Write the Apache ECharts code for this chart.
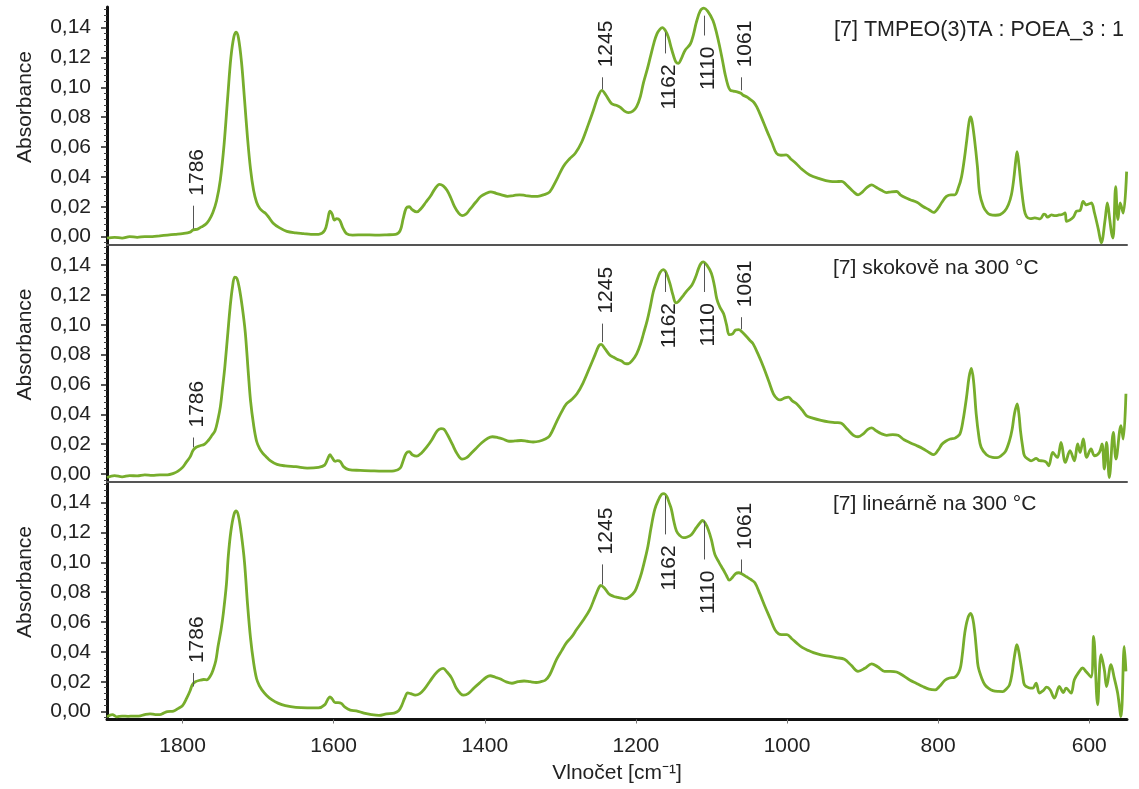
<!DOCTYPE html>
<html>
<head>
<meta charset="utf-8">
<script src="https://cdn.jsdelivr.net/npm/echarts@6/dist/echarts.min.js"></script>
<style>
  html, body { margin: 0; padding: 0; background: #fff; }
  #chart { width: 1139px; height: 789px; }
</style>
</head>
<body>
<div id="chart"></div>
<script>
// IR spectra: [wavenumber (cm-1), absorbance]
const spectrumTop = [
  [1900,-0.001],[1890,-0.0005],[1880,-0.001],[1870,0.0],[1860,-0.0005],[1850,0.0],[1840,0.0],[1830,0.0005],[1820,0.001],[1810,0.0015],
  [1800,0.002],[1790,0.003],[1786,0.0045],[1780,0.005],[1775,0.0065],[1770,0.008],[1765,0.011],[1760,0.016],[1755,0.024],[1750,0.038],
  [1745,0.062],[1740,0.095],[1736,0.120],[1732,0.134],[1729,0.137],[1726,0.133],[1722,0.117],[1718,0.092],[1714,0.066],[1710,0.045],
  [1706,0.031],[1702,0.023],[1698,0.019],[1694,0.017],[1690,0.0155],[1686,0.013],[1680,0.009],[1672,0.006],[1662,0.0035],[1650,0.0025],
  [1640,0.002],[1630,0.0015],[1620,0.0015],[1612,0.004],[1608,0.011],[1605,0.017],[1602,0.015],[1599,0.011],[1596,0.012],[1592,0.011],
  [1588,0.006],[1583,0.002],[1575,0.001],[1560,0.0012],[1545,0.0010],[1530,0.0012],[1518,0.0015],[1512,0.004],[1508,0.012],[1504,0.019],
  [1500,0.020],[1496,0.018],[1490,0.0165],[1484,0.019],[1478,0.023],[1472,0.027],[1466,0.032],[1460,0.035],[1455,0.034],[1450,0.031],
  [1445,0.026],[1440,0.020],[1435,0.016],[1430,0.014],[1425,0.015],[1420,0.018],[1412,0.023],[1405,0.027],[1398,0.029],[1392,0.030],
  [1385,0.029],[1378,0.028],[1370,0.027],[1362,0.0275],[1354,0.028],[1346,0.0275],[1338,0.027],[1330,0.027],[1322,0.028],[1314,0.030],
  [1305,0.038],[1296,0.047],[1288,0.052],[1280,0.056],[1272,0.063],[1263,0.075],[1256,0.085],[1250,0.094],[1245,0.098],[1240,0.095],
  [1232,0.089],[1226,0.088],[1221,0.0867],[1215,0.084],[1210,0.083],[1204,0.084],[1199,0.087],[1194,0.094],[1190,0.103],[1185,0.112],
  [1181,0.120],[1176,0.130],[1172,0.136],[1168,0.139],[1165,0.140],[1161,0.138],[1157,0.1335],[1153,0.126],[1150,0.121],[1147,0.117],
  [1144,0.116],[1140,0.119],[1135,0.1247],[1128,0.129],[1124,0.135],[1120,0.1435],[1115,0.151],[1110,0.153],[1105,0.151],[1098,0.1447],
  [1093,0.136],[1089,0.127],[1085,0.117],[1082,0.109],[1078,0.101],[1075,0.098],[1071,0.0975],[1066,0.097],[1061,0.096],[1058,0.0947],
  [1053,0.0935],[1049,0.092],[1044,0.09],[1040,0.0869],[1034,0.08],[1027,0.0713],[1020,0.063],[1014,0.0558],[1008,0.0545],[1001,0.0547],
  [995,0.052],[988,0.049],[980,0.045],[970,0.0413],[958,0.039],[943,0.037],[935,0.0368],[928,0.037],[920,0.034],[912,0.030],
  [906,0.028],[900,0.030],[894,0.033],[888,0.0347],[882,0.033],[875,0.031],[868,0.0295],[862,0.030],[855,0.0302],[850,0.028],
  [843,0.026],[837,0.0247],[828,0.023],[820,0.0202],[812,0.018],[806,0.0162],[800,0.019],[795,0.023],[789,0.0269],[783,0.028],
  [778,0.028],[773,0.033],[769,0.040],[765,0.053],[762,0.065],[759,0.077],[757,0.0802],[755,0.077],[752,0.066],[748,0.047],
  [745,0.029],[740,0.020],[735,0.016],[731,0.0147],[724,0.0143],[718,0.0147],[712,0.017],[707,0.0213],[703,0.028],[700,0.038],
  [697,0.052],[695.5,0.0569],[693,0.048],[690,0.0335],[686,0.018],[683,0.0135],[678,0.012],[672,0.0125],[665,0.0118],[660,0.015],
  [658,0.0147],[655,0.013],[650,0.0145],[645,0.014],[640,0.0145],[636,0.0148],[632,0.0158],[630,0.0102],[626,0.011],[621,0.013],
  [617,0.0169],[612,0.0175],[608,0.0235],[604,0.0213],[600,0.022],[597,0.0225],[593,0.0158],[588,0.005],[584,-0.0042],[579,0.0113],
  [576,0.0225],[573,0.012],[570.5,0.0025],[568.5,-0.001],[565,0.0335],[562,0.0113],[559,0.0225],[555,0.0158],[550.5,0.0435]
];

const spectrumMid = [
  [1900,-0.0023],[1890,-0.001],[1880,-0.0018],[1870,-0.001],[1860,-0.0012],[1850,-0.0005],[1840,-0.0008],[1830,-0.0005],[1820,-0.0005],[1812,0.0005],
  [1806,0.002],[1800,0.0045],[1795,0.008],[1790,0.0115],[1786,0.016],[1782,0.018],[1777,0.019],[1771,0.020],[1766,0.0225],[1761,0.026],
  [1757,0.029],[1753,0.037],[1750,0.045],[1747,0.058],[1744,0.072],[1740,0.095],[1737,0.112],[1734,0.125],[1731,0.132],[1728,0.131],
  [1725,0.125],[1721,0.112],[1717,0.095],[1713,0.068],[1710,0.049],[1706,0.033],[1702,0.022],[1698,0.017],[1694,0.014],[1690,0.012],
  [1684,0.009],[1675,0.0065],[1664,0.0055],[1650,0.005],[1635,0.004],[1620,0.0045],[1612,0.006],[1608,0.01],[1605,0.013],[1602,0.011],
  [1598,0.0085],[1595,0.009],[1591,0.0083],[1587,0.005],[1580,0.003],[1565,0.0025],[1550,0.0022],[1535,0.002],[1520,0.0022],[1512,0.004],
  [1508,0.009],[1504,0.014],[1500,0.015],[1496,0.013],[1490,0.012],[1484,0.014],[1477,0.018],[1470,0.023],[1463,0.029],[1458,0.0305],
  [1454,0.030],[1449,0.026],[1443,0.02],[1437,0.014],[1430,0.010],[1424,0.011],[1418,0.014],[1412,0.017],[1404,0.021],[1396,0.024],
  [1390,0.025],[1383,0.0245],[1376,0.0235],[1368,0.022],[1360,0.0222],[1352,0.0225],[1344,0.022],[1336,0.0215],[1328,0.022],[1320,0.0235],
  [1314,0.0257],[1305,0.035],[1298,0.042],[1292,0.047],[1285,0.050],[1278,0.0538],[1270,0.061],[1261,0.0716],[1254,0.080],[1249,0.086],
  [1246,0.0869],[1241,0.084],[1235,0.080],[1230,0.0784],[1225,0.077],[1219,0.0757],[1214,0.074],[1210,0.0739],[1205,0.076],[1199,0.0806],
  [1194,0.087],[1190,0.094],[1185,0.103],[1181,0.112],[1177,0.122],[1172,0.130],[1168,0.135],[1164,0.137],[1160,0.135],[1155,0.1277],
  [1151,0.120],[1147,0.1147],[1143,0.116],[1137,0.1198],[1132,0.123],[1126,0.1265],[1121,0.132],[1117,0.1378],[1114,0.141],[1111,0.1422],
  [1106,0.140],[1100,0.1344],[1096,0.126],[1093,0.1176],[1089,0.112],[1084,0.1075],[1080,0.1],[1076.5,0.0934],[1072,0.094],[1068,0.0965],
  [1064,0.0968],[1059,0.095],[1053,0.0918],[1049,0.0895],[1045,0.0874],[1038,0.080],[1031,0.0716],[1024,0.062],[1018,0.0538],[1013,0.0505],
  [1009,0.0497],[1003,0.051],[998,0.0515],[993,0.049],[987,0.047],[980,0.043],[974,0.039],[966,0.0375],[955,0.036],[945,0.035],
  [935,0.0345],[928,0.034],[920,0.030],[912,0.026],[906,0.025],[899,0.027],[893,0.030],[888,0.031],[882,0.029],[875,0.027],
  [868,0.026],[860,0.0265],[853,0.026],[845,0.023],[837,0.021],[828,0.019],[820,0.017],[812,0.0145],[806,0.013],[800,0.016],
  [795,0.020],[790,0.022],[784,0.0235],[778,0.024],[775,0.025],[771,0.027],[767,0.036],[762.4,0.0515],[759,0.065],[756,0.0708],
  [753,0.062],[749.6,0.0403],[746,0.025],[743,0.0179],[736,0.013],[728,0.0112],[722,0.011],[716.5,0.0123],[711,0.015],[705.5,0.0224],
  [702,0.030],[699,0.0403],[695.4,0.047],[693,0.040],[691,0.0291],[688,0.018],[685.7,0.0123],[681,0.010],[677,0.0089],[670,0.0105],
  [666,0.009],[661.5,0.0089],[657,0.008],[653.6,0.0056],[648.3,0.0145],[644,0.012],[641.7,0.0112],[637.3,0.0212],[631.6,0.0078],[625.4,0.0157],
  [619.7,0.0089],[615.3,0.0202],[612.1,0.0145],[607.8,0.0235],[603.4,0.0112],[597.6,0.0168],[593.2,0.0123],[586.6,0.0145],[583,0.0202],[580,0.0034],
  [577,0.0212],[573.4,-0.0023],[568.1,0.028],[564.6,0.0101],[558,0.0325],[555,0.0235],[551.4,0.0538]
];

const spectrumBot = [
  [1900,-0.0035],[1893,-0.002],[1887,-0.0035],[1880,-0.003],[1872,-0.0032],[1865,-0.003],[1858,-0.003],[1850,-0.002],[1843,-0.0015],[1836,-0.002],
  [1830,-0.002],[1825,-0.001],[1820,0.0],[1812,0.0003],[1806,0.002],[1800,0.004],[1794.5,0.009],[1790,0.014],[1787,0.018],[1783,0.020],
  [1777,0.021],[1772,0.0215],[1768,0.0213],[1763,0.024],[1759.5,0.028],[1756,0.034],[1753,0.0437],[1749,0.055],[1746,0.066],[1742,0.085],
  [1739.5,0.104],[1736,0.121],[1732,0.132],[1729,0.1344],[1726,0.131],[1722,0.118],[1718,0.100],[1714,0.072],[1710,0.049],[1706,0.033],
  [1702,0.022],[1698,0.017],[1695,0.0146],[1689,0.011],[1682,0.008],[1673,0.0055],[1664,0.004],[1650,0.0028],[1635,0.0025],[1620,0.0025],
  [1612,0.0045],[1608,0.008],[1605,0.0099],[1602,0.0085],[1598,0.006],[1594,0.006],[1590,0.0055],[1585,0.003],[1578,0.001],[1570,0.0005],
  [1560,-0.001],[1550,-0.002],[1540,-0.0025],[1530,-0.0015],[1520,-0.001],[1514,0.0005],[1510,0.004],[1506,0.009],[1502,0.0125],[1498,0.012],
  [1492,0.011],[1486,0.012],[1480,0.015],[1473,0.020],[1466,0.025],[1460,0.028],[1455,0.029],[1450,0.0265],[1444,0.0226],[1438,0.016],
  [1432,0.012],[1428,0.011],[1422,0.012],[1414,0.016],[1405,0.020],[1398,0.023],[1393,0.024],[1386,0.023],[1380,0.022],[1372,0.020],
  [1364,0.019],[1356,0.020],[1348,0.0205],[1340,0.020],[1332,0.0195],[1326,0.020],[1320,0.021],[1314,0.0247],[1305,0.035],[1298,0.041],
  [1292,0.046],[1285,0.050],[1278.5,0.055],[1270,0.061],[1261,0.0683],[1254,0.077],[1249,0.083],[1246.7,0.0845],[1242,0.083],[1236,0.079],
  [1230,0.0773],[1224,0.0765],[1219,0.076],[1214.6,0.0755],[1208,0.077],[1201.3,0.0806],[1197,0.086],[1192.5,0.093],[1188,0.102],[1184,0.111],
  [1180,0.123],[1175,0.1355],[1170,0.142],[1166,0.1455],[1162.6,0.146],[1159,0.144],[1156,0.14],[1153,0.1355],[1150,0.128],[1146.3,0.121],
  [1142,0.118],[1137.4,0.1165],[1132,0.117],[1126.3,0.1187],[1120,0.1232],[1115,0.1265],[1111.8,0.128],[1108,0.126],[1104.3,0.122],[1100,0.115],
  [1095.5,0.1053],[1090,0.100],[1084.5,0.0952],[1080,0.091],[1076.5,0.088],[1072,0.090],[1068,0.0925],[1064,0.093],[1059,0.092],[1053.5,0.0903],
  [1048,0.0885],[1042.5,0.0863],[1036,0.079],[1029.3,0.0706],[1022,0.062],[1016,0.0549],[1011,0.052],[1007.3,0.0515],[1000,0.0515],[994,0.049],
  [987.4,0.046],[980,0.043],[972,0.041],[965,0.0395],[955,0.038],[943,0.037],[935,0.0362],[924,0.035],[915,0.031],[906,0.027],
  [897,0.029],[888,0.032],[880,0.030],[871,0.027],[863,0.027],[855,0.0265],[846,0.024],[837,0.021],[829,0.019],[821,0.017],
  [812,0.015],[804,0.0145],[798,0.017],[791,0.021],[785,0.0225],[778,0.023],[771.3,0.028],[768,0.038],[764.7,0.0527],[761,0.062],
  [757,0.0657],[754,0.062],[751.4,0.0527],[749,0.04],[747,0.0302],[742,0.022],[738,0.0179],[733,0.0155],[727.6,0.0141],[720,0.0135],
  [714.4,0.0134],[710,0.015],[705.5,0.0179],[702,0.026],[700.3,0.0325],[698,0.040],[695.8,0.0448],[693.5,0.041],[691.4,0.0347],[688,0.024],
  [685.7,0.0179],[680,0.016],[674.7,0.0157],[670.3,0.0191],[665.9,0.0124],[661,0.014],[656.3,0.0164],[651.8,0.0146],[646.1,0.009],[639.5,0.0168],
  [634.2,0.0128],[630.7,0.0157],[624.1,0.0124],[619.7,0.0213],[613.1,0.0269],[608.7,0.0292],[604.3,0.0269],[597.6,0.0231],[594.2,0.0504],[588.9,0.0045],
  [584.4,0.0381],[580,0.028],[577,0.0168],[571.2,0.0314],[566.8,0.0224],[562.4,0.0124],[558,-0.0034],[553.6,0.0437],[551.4,0.0269]
];

// Peak annotations: [wavenumber, absorbance where the leader starts, absorbance where it ends]
const peaksTop = [[1786,0.0053,0.0207],[1245,0.0987,0.1067],[1162,0.1367,0.1227],[1110,0.148,0.1347],[1061,0.098,0.1067]];
const peaksMid = [[1786,0.018,0.0245],[1245,0.0884,0.1008],[1162,0.1355,0.122],[1110,0.1413,0.122],[1061,0.097,0.1051]];
const peaksBot = [[1786,0.0168,0.0258],[1245,0.0851,0.0986],[1162,0.1445,0.1187],[1110,0.1277,0.1019],[1061,0.093,0.1019]];

const panelTitles = ['[7] TMPEO(3)TA : POEA_3 : 1', '[7] skokově na 300 °C', '[7] lineárně na 300 °C'];
const xTicks = [1800, 1600, 1400, 1200, 1000, 800, 600];
const yTicks = [0, 0.02, 0.04, 0.06, 0.08, 0.10, 0.12, 0.14];
const xTitle = 'Vlnočet [cm⁻¹]';
const yTitle = 'Absorbance';

// minor ticks every 0.004 between the labelled ones
const yMinorTicks = [];
for (let k = -1; k <= 38; k++) {
  if (k % 5 !== 0) yMinorTicks.push(+(k * 0.004).toFixed(3));
}

const FONT = '"Liberation Sans", Arial, Helvetica, sans-serif';
const GREEN = '#77ad2c';
const panelTops = [7, 244.5, 482];
const panelH = 237.5;
const Y_MIN = -0.0053, Y_MAX = 0.1538;
const spectra = [spectrumTop, spectrumMid, spectrumBot];
const peaks = [peaksTop, peaksMid, peaksBot];

function peakMarker(params, api) {
  const wn = api.value(0);
  const p0 = api.coord([wn, api.value(1)]);
  const p1 = api.coord([wn, api.value(2)]);
  const up = p1[1] < p0[1];
  const ty = up ? p1[1] - 10 : p1[1] + 11;
  const x = Math.round(p0[0]) + 0.5;
  return {
    type: 'group',
    children: [
      { type: 'line', shape: { x1: x, y1: p0[1], x2: x, y2: p1[1] },
        style: { stroke: '#555', lineWidth: 1 } },
      { type: 'text', x: x + 4, y: ty, rotation: Math.PI / 2,
        style: { text: String(wn), font: '21px ' + FONT, fill: '#222',
                 align: up ? 'left' : 'right', verticalAlign: 'middle' } }
    ]
  };
}

const grids = [], xAxes = [], yAxes = [], series = [], graphics = [];
for (let i = 0; i < 3; i++) {
  const last = i === 2;
  grids.push({ left: 107, right: 12, top: panelTops[i], height: panelH });
  xAxes.push({
    gridIndex: i, type: 'value', min: 550, max: 1900, inverse: true,
    axisLine: { show: true, onZero: false,
      lineStyle: { color: last ? '#111' : '#555', width: last ? 3 : 2 } },
    axisTick: { show: last, customValues: xTicks, length: 4, lineStyle: { color: '#777', width: 1 } },
    axisLabel: { show: last, customValues: xTicks, formatter: v => String(v),
      fontSize: 21, fontFamily: FONT, color: '#222', margin: 16 },
    splitLine: { show: false },
    name: last ? xTitle : '', nameLocation: 'middle', nameGap: 43,
    nameTextStyle: { fontSize: 21, fontFamily: FONT, color: '#222' }
  });
  // labelled axis with long ticks
  yAxes.push({
    gridIndex: i, type: 'value', min: Y_MIN, max: Y_MAX, position: 'left',
    axisLine: { show: true, onZero: false, lineStyle: { color: '#111', width: 3 } },
    axisTick: { show: true, customValues: yTicks, length: 6, lineStyle: { color: '#222', width: 1.5 } },
    axisLabel: { customValues: yTicks, formatter: v => v.toFixed(2).replace('.', ','),
      fontSize: 21, fontFamily: FONT, color: '#222', margin: 16 },
    splitLine: { show: false }
  });
  // minor ticks
  yAxes.push({
    gridIndex: i, type: 'value', min: Y_MIN, max: Y_MAX, position: 'left', offset: 0,
    axisLine: { show: false, onZero: false },
    axisTick: { show: true, customValues: yMinorTicks, length: 3, lineStyle: { color: '#444', width: 1 } },
    axisLabel: { show: false },
    splitLine: { show: false }
  });
  series.push({
    type: 'line', xAxisIndex: i, yAxisIndex: 2 * i, data: spectra[i],
    showSymbol: false, smooth: 0.35, clip: true,
    lineStyle: { color: GREEN, width: 2.8, join: 'round' }, itemStyle: { color: GREEN },
    animation: false, silent: true, z: 3
  });
  series.push({
    type: 'custom', xAxisIndex: i, yAxisIndex: 2 * i, data: peaks[i],
    renderItem: peakMarker, clip: false, animation: false, silent: true, z: 4
  });
  graphics.push({
    type: 'text', x: 25, y: panelTops[i] + 100, rotation: Math.PI / 2,
    style: { text: yTitle, font: '21px ' + FONT, fill: '#222', align: 'center', verticalAlign: 'middle' }
  });
}
graphics.push(
  { type: 'text', left: 834, top: 19, style: { text: panelTitles[0], font: '21.5px ' + FONT, fill: '#222' } },
  { type: 'text', left: 833, top: 258, style: { text: panelTitles[1], font: '21px ' + FONT, fill: '#222' } },
  { type: 'text', left: 833, top: 494, style: { text: panelTitles[2], font: '21px ' + FONT, fill: '#222' } }
);

const chart = echarts.init(document.getElementById('chart'), null, { renderer: 'canvas' });
chart.setOption({
  backgroundColor: '#fff',
  animation: false,
  grid: grids,
  xAxis: xAxes,
  yAxis: yAxes,
  series: series,
  graphic: graphics
});
</script>
</body>
</html>
